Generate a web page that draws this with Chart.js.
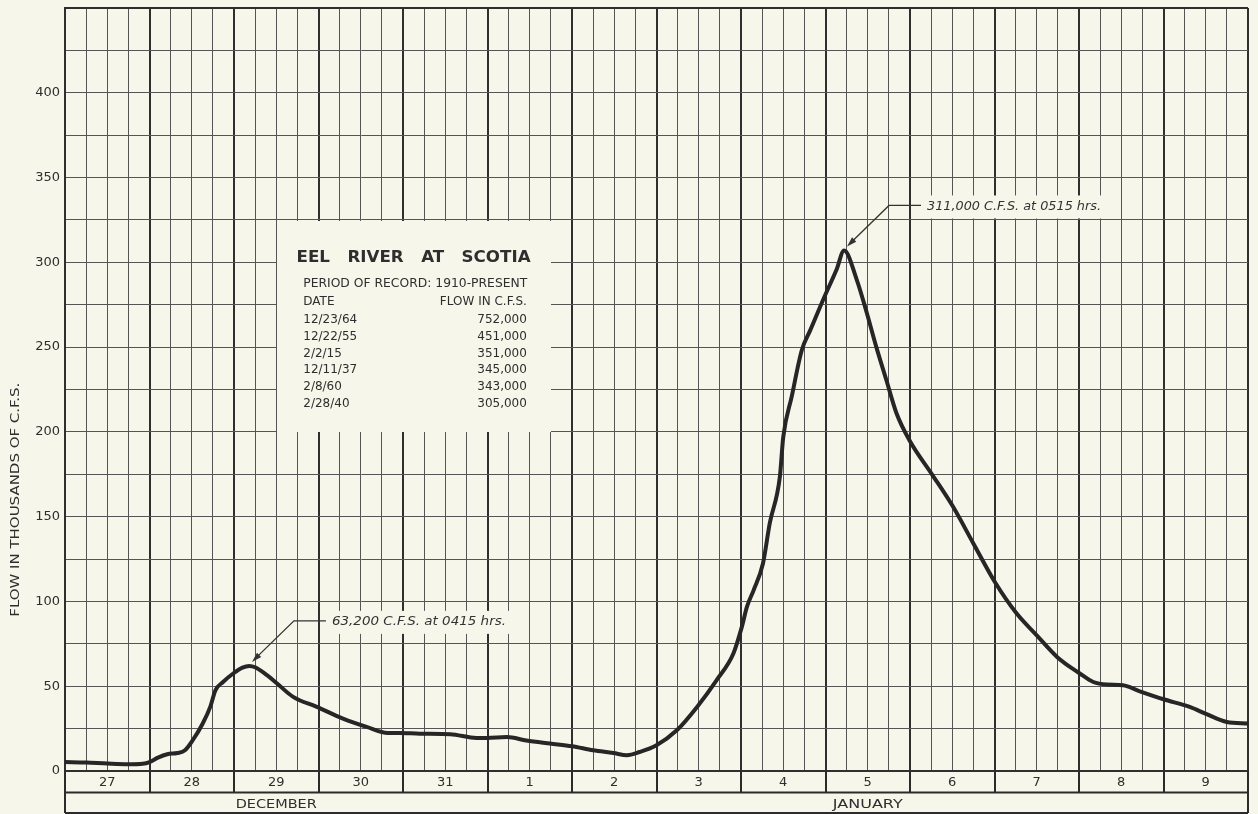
<!DOCTYPE html>
<html><head><meta charset="utf-8">
<script src="https://cdn.jsdelivr.net/npm/chart.js@4.4.0/dist/chart.umd.min.js"></script>
<style>
html,body{margin:0;padding:0;background:#f6f7ea;}
#wrap{width:1258px;height:814px;position:relative;}
</style></head><body>
<div id="wrap"><canvas id="c"></canvas></div>
<script>
// time in days since 27 December 00:00
const dayPositions = [0, 0.25, 0.5, 0.75, 0.92, 1.0, 1.1, 1.21, 1.33, 1.42, 1.51, 1.63, 1.72, 1.78, 1.87, 1.99, 2.1, 2.18, 2.25, 2.39, 2.51, 2.7, 2.98, 3.29, 3.57, 3.82, 3.96, 4.2, 4.56, 4.87, 4.99, 5.23, 5.46, 5.74, 6.0, 6.25, 6.49, 6.65, 6.8, 7.0, 7.24, 7.48, 7.71, 7.91, 8.01, 8.07, 8.15, 8.26, 8.34, 8.46, 8.5, 8.6, 8.72, 8.82, 8.99, 9.13, 9.22, 9.37, 9.49, 9.6, 9.72, 9.84, 10.0, 10.26, 10.51, 10.75, 11.01, 11.26, 11.5, 11.74, 12.01, 12.17, 12.33, 12.52, 12.72, 13.0, 13.31, 13.51, 13.75, 14.0];
// flow in thousands of c.f.s.
const flowValues = [5.3, 5.0, 4.4, 4.0, 4.3, 5.3, 7.9, 9.9, 10.6, 12.2, 18, 28, 38, 47.6, 52.5, 57.5, 61, 62, 61.2, 56.5, 51.6, 43.7, 37.8, 30.9, 26, 22.4, 22.4, 22, 21.7, 19.5, 19.5, 20, 18, 16.2, 14.6, 12.2, 10.6, 9.3, 11.2, 15.2, 24, 37.8, 53.5, 69.3, 85, 96.8, 106.7, 122.4, 146, 173.6, 197, 220.8, 248.3, 260, 280, 295.6, 307, 289.7, 270, 250.3, 230.6, 211, 194.5, 175, 155.8, 134.2, 111, 93, 80, 67.3, 57.5, 52.5, 51, 50.6, 47, 42.3, 37.8, 33.5, 28.9, 28];

const dayLabels = ['27', '28', '29', '30', '31', '1', '2', '3', '4', '5', '6', '7', '8', '9'];
const monthLabels = ['DECEMBER', 'JANUARY'];
const monthStartDays = [0, 5];
const monthEndDays = [5, 14];
const yTickLabels = [0, 50, 100, 150, 200, 250, 300, 350, 400];
const yAxisTitle = 'FLOW IN THOUSANDS OF C.F.S.';

const recordTitle = 'EEL   RIVER   AT   SCOTIA';
const recordPeriod = 'PERIOD OF RECORD: 1910-PRESENT';
const recordHeads = ['DATE', 'FLOW IN C.F.S.'];
const recordDates = ['12/23/64', '12/22/55', '2/2/15', '12/11/37', '2/8/60', '2/28/40'];
const recordFlows = ['752,000', '451,000', '351,000', '345,000', '343,000', '305,000'];

const peakTimes = [2.177, 9.219];
const peakValues = [62, 307];
const peakNotes = ['63,200 C.F.S. at 0415 hrs.', '311,000 C.F.S. at 0515 hrs.'];

const PAPER = '#f6f7ea';
const INK = '#2b2b2b';
const FONT = '"DejaVu Sans", "Liberation Sans", sans-serif';

function fitText(ctx, text, x, y, width, align) {
  const w = ctx.measureText(text).width;
  const s = width / w;
  ctx.save();
  ctx.translate(x, y);
  ctx.scale(s, 1);
  ctx.textAlign = align;
  ctx.fillText(text, 0, 0);
  ctx.restore();
}

const paperPlugin = {
  id: 'paper',
  beforeDraw(chart) {
    const ctx = chart.ctx;
    ctx.save();
    ctx.fillStyle = PAPER;
    ctx.fillRect(0, 0, chart.width, chart.height);
    ctx.restore();
  },
  beforeDatasetsDraw(chart) {
    const ctx = chart.ctx;
    const x = chart.scales.x, y = chart.scales.y;
    ctx.save();
    // inset record box
    const l = x.getPixelForValue(2.5), r = x.getPixelForValue(5.75);
    const t = y.getPixelForValue(325), b = y.getPixelForValue(200);
    ctx.fillStyle = PAPER;
    ctx.fillRect(Math.round(l) + 1, Math.round(t) + 1, Math.round(r) - Math.round(l) - 1, Math.round(b) - Math.round(t) - 1);
    ctx.fillStyle = '#2e2e2e';
    ctx.textBaseline = 'middle';
    ctx.font = 'bold 16px ' + FONT;
    fitText(ctx, recordTitle, (l + r) / 2, t + 38, 234, 'center');
    ctx.font = '12px ' + FONT;
    fitText(ctx, recordPeriod, l + 27, t + 64, 224, 'left');
    ctx.textAlign = 'left';
    ctx.fillText(recordHeads[0], l + 27, t + 81.5);
    ctx.textAlign = 'right';
    ctx.fillText(recordHeads[1], r - 24, t + 81.5);
    for (let i = 0; i < recordDates.length; i++) {
      const yy = t + 100 + i * 16.8;
      ctx.textAlign = 'left';
      ctx.fillText(recordDates[i], l + 27, yy);
      ctx.textAlign = 'right';
      ctx.fillText(recordFlows[i], r - 24, yy);
    }
    // note backgrounds
    ctx.font = 'italic 12px ' + FONT;
    for (let i = 0; i < peakNotes.length; i++) {
      const px = x.getPixelForValue(peakTimes[i]), py = y.getPixelForValue(peakValues[i]);
      const tx = px + 3 + 42 + 32 + 6, ty = py - 4 - 41 + 1;
      ctx.fillStyle = PAPER;
      ctx.fillRect(tx - 4, ty - 11, 184, 23);
    }
    ctx.restore();
  },
  afterDatasetsDraw(chart) {
    const ctx = chart.ctx;
    const x = chart.scales.x, y = chart.scales.y;
    const area = chart.chartArea;
    ctx.save();
    // annotations
    ctx.strokeStyle = '#333';
    ctx.fillStyle = '#333';
    ctx.lineWidth = 1.3;
    ctx.font = 'italic 12px ' + FONT;
    ctx.textBaseline = 'middle';
    for (let i = 0; i < peakNotes.length; i++) {
      const px = x.getPixelForValue(peakTimes[i]), py = y.getPixelForValue(peakValues[i]);
      const tipX = px + 3, tipY = py - 4;
      const kx = tipX + 42, ky = tipY - 41;
      ctx.beginPath();
      ctx.moveTo(tipX + 4, tipY - 4);
      ctx.lineTo(kx, ky);
      ctx.lineTo(kx + 32, ky);
      ctx.stroke();
      // arrow head
      const ang = Math.atan2(ky - tipY, kx - tipX);
      ctx.beginPath();
      ctx.moveTo(tipX, tipY);
      ctx.lineTo(tipX + 10 * Math.cos(ang) - 3 * Math.sin(ang), tipY + 10 * Math.sin(ang) + 3 * Math.cos(ang));
      ctx.lineTo(tipX + 10 * Math.cos(ang) + 3 * Math.sin(ang), tipY + 10 * Math.sin(ang) - 3 * Math.cos(ang));
      ctx.closePath();
      ctx.fill();
      fitText(ctx, peakNotes[i], kx + 38, ky + 1, 174, 'left');
    }
    // bottom label rows
    const y0 = area.bottom, y1 = y0 + 21.5, y2 = y0 + 42;
    const L = area.left, R = area.right;
    ctx.strokeStyle = INK;
    ctx.lineWidth = 2;
    ctx.beginPath();
    ctx.moveTo(L, y1); ctx.lineTo(R, y1);
    ctx.moveTo(L, y2); ctx.lineTo(R, y2);
    ctx.moveTo(L, y0); ctx.lineTo(L, y2);
    ctx.moveTo(R, y0); ctx.lineTo(R, y2);
    for (let d = 1; d < dayLabels.length; d++) {
      const dx = Math.round(x.getPixelForValue(d));
      ctx.moveTo(dx, y0); ctx.lineTo(dx, y1);
    }
    ctx.stroke();
    ctx.fillStyle = '#2e2e2e';
    ctx.font = '13px ' + FONT;
    ctx.textAlign = 'center';
    for (let d = 0; d < dayLabels.length; d++) {
      ctx.fillText(dayLabels[d], x.getPixelForValue(d + 0.5), y0 + 11.5);
    }
    ctx.font = '12px ' + FONT;
    for (let m = 0; m < monthLabels.length; m++) {
      const cx = (x.getPixelForValue(monthStartDays[m]) + x.getPixelForValue(monthEndDays[m])) / 2;
      const w = monthLabels[m] === 'DECEMBER' ? 81 : 70;
      fitText(ctx, monthLabels[m], cx, y1 + 12, w, 'center');
    }
    // y axis title
    ctx.save();
    ctx.translate(16, y.getPixelForValue(160));
    ctx.rotate(-Math.PI / 2);
    ctx.font = '12px ' + FONT;
    fitText(ctx, yAxisTitle, 0, 0, 234, 'center');
    ctx.restore();
    ctx.restore();
  }
};

const points = dayPositions.map((d, i) => ({ x: d, y: flowValues[i] }));

new Chart(document.getElementById('c'), {
  type: 'line',
  data: {
    datasets: [{
      data: points,
      borderColor: '#262626',
      borderWidth: 4,
      pointRadius: 0,
      cubicInterpolationMode: 'monotone',
      borderCapStyle: 'round',
      borderJoinStyle: 'round',
      fill: false
    }]
  },
  options: {
    responsive: true,
    maintainAspectRatio: false,
    animation: false,
    layout: { padding: { top: 8, right: 10, bottom: 43, left: 0 } },
    plugins: { legend: { display: false }, tooltip: { enabled: false } },
    scales: {
      x: {
        type: 'linear',
        min: 0, max: 14,
        afterFit(scale) { scale.height = 0; scale.paddingLeft = 0; scale.paddingRight = 0; },
        ticks: { display: false, stepSize: 0.25, maxTicksLimit: 100 },
        grid: {
          drawTicks: false,
          color: ctx => (Math.abs(ctx.tick.value % 1) < 1e-9 ? '#2f2f2f' : '#555'),
          lineWidth: ctx => (Math.abs(ctx.tick.value % 1) < 1e-9 ? 2 : 1)
        },
        border: { color: '#2f2f2f', width: 2 }
      },
      y: {
        min: 0, max: 450,
        afterFit(scale) { scale.width = 65; scale.paddingTop = 0; scale.paddingBottom = 0; },
        ticks: {
          stepSize: 25,
          maxTicksLimit: 100,
          autoSkip: false,
          padding: 5,
          color: '#2e2e2e',
          font: { family: FONT, size: 13 },
          callback: v => (yTickLabels.includes(v) ? String(v) : '')
        },
        grid: {
          drawTicks: false,
          color: ctx => (ctx.tick.value === 450 ? '#2f2f2f' : '#555'),
          lineWidth: ctx => (ctx.tick.value === 450 ? 2 : 1)
        },
        border: { color: '#2f2f2f', width: 2 }
      }
    }
  },
  plugins: [paperPlugin]
});
</script>
</body></html>
